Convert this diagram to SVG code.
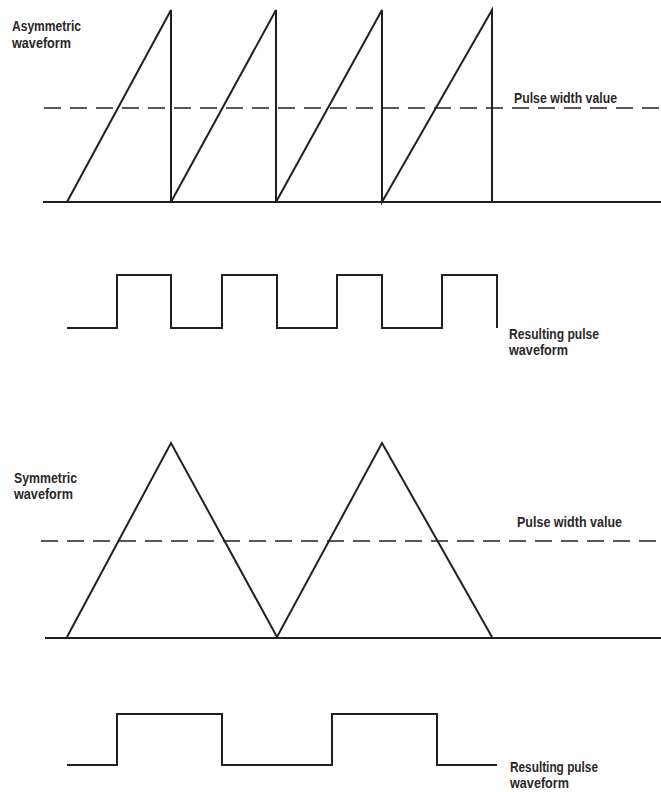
<svg xmlns="http://www.w3.org/2000/svg" width="661" height="792" viewBox="0 0 661 792">
<style>
.w{fill:none;stroke:#231f20;stroke-width:2;stroke-linejoin:miter}
.b{fill:none;stroke:#231f20;stroke-width:2}
.d{fill:none;stroke:#231f20;stroke-width:1.6;stroke-dasharray:17 9}
text{font-family:"Liberation Sans",Arial,sans-serif;font-size:15px;font-weight:bold;fill:#2b2728}
</style>
<rect width="661" height="792" fill="#fff"/>
<g id="asymmetric">
<line class="b" x1="43" y1="202" x2="661" y2="202"/>
<path class="w" d="M67,202 L171,10 L171,202 L276,10 L276,202 L382,10 L382,202 L492,10 L492,202"/>
<line class="d" x1="44" y1="108" x2="661" y2="108"/>
<text x="12" y="31" textLength="69" lengthAdjust="spacingAndGlyphs">Asymmetric</text>
<text x="12" y="48" textLength="59" lengthAdjust="spacingAndGlyphs">waveform</text>
<text x="514" y="103" textLength="103" lengthAdjust="spacingAndGlyphs">Pulse width value</text>
</g>
<g id="asym-pulse">
<path class="w" d="M67,328 L117,328 L117,275 L171,275 L171,328 L222,328 L222,275 L277,275 L277,328 L337,328 L337,275 L382,275 L382,328 L442,328 L442,275 L497,275 L497,328"/>
<text x="509" y="339" textLength="90" lengthAdjust="spacingAndGlyphs">Resulting pulse</text>
<text x="509" y="355" textLength="59" lengthAdjust="spacingAndGlyphs">waveform</text>
</g>
<g id="symmetric">
<line class="b" x1="45" y1="638" x2="661" y2="638"/>
<path class="w" d="M67,637 L171,443 L277,637 L382,443 L492,637"/>
<line class="d" x1="41" y1="541" x2="661" y2="541"/>
<text x="14" y="483" textLength="63" lengthAdjust="spacingAndGlyphs">Symmetric</text>
<text x="14" y="499" textLength="59" lengthAdjust="spacingAndGlyphs">waveform</text>
<text x="517" y="527" textLength="105" lengthAdjust="spacingAndGlyphs">Pulse width value</text>
</g>
<g id="sym-pulse">
<path class="w" d="M67,765 L117,765 L117,714 L222,714 L222,765 L332,765 L332,714 L437,714 L437,765 L497,765"/>
<text x="510" y="772" textLength="88" lengthAdjust="spacingAndGlyphs">Resulting pulse</text>
<text x="510" y="788" textLength="59" lengthAdjust="spacingAndGlyphs">waveform</text>
</g>
</svg>
